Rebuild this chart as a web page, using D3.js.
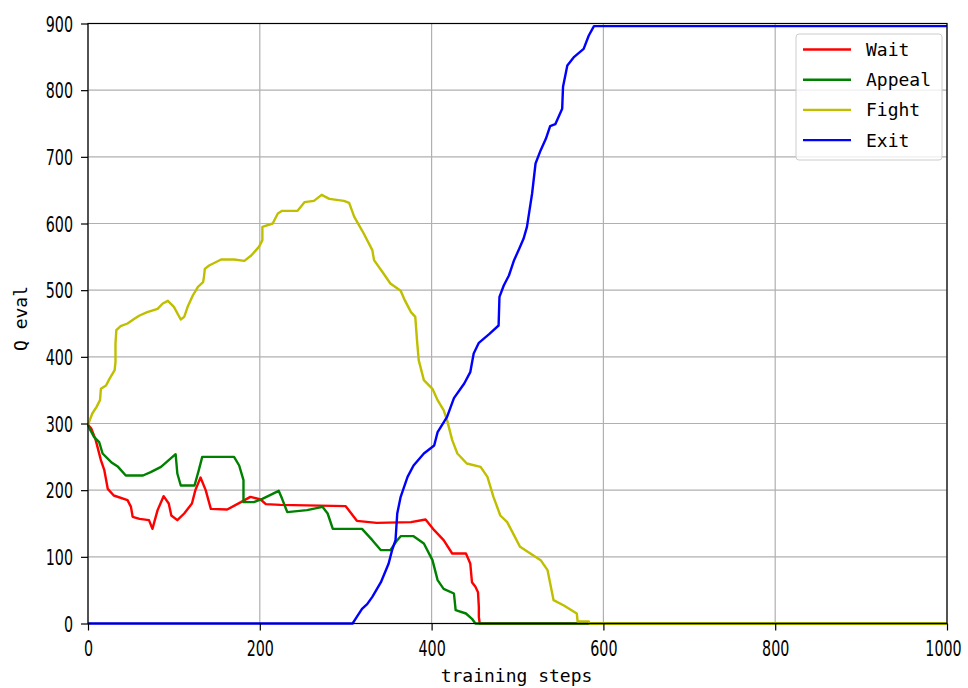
<!DOCTYPE html>
<html>
<head>
<meta charset="utf-8">
<script src="https://cdn.jsdelivr.net/npm/d3@7"></script>
<style>
  body { margin: 0; background: #fff; }
  .tick text { font-family: "DejaVu Sans", "Liberation Sans", sans-serif; font-size: 21px; fill: #000; }
  .lbl { font-family: "DejaVu Sans Mono", "Liberation Mono", monospace; font-size: 18px; fill: #000; }
</style>
</head>
<body>
<svg id="chart"></svg>
<script>
// values (training step, Q eval)
var waitSteps   = [0,4,9,15,19,23,30,46,50,52,60,71,75,81,88,94,97,104,112,121,125,131,137,143,162,178,189,201,207,224,300,313,336,376,393,403,414,424,440,445,447,451,454,455,455,456,1000]
var waitQ       = [298,292,275,245,230,202,192,185,175,160,157,155,142,170,191,180,162,155,165,180,200,219,200,172,171,182,190,186,179,178,176,154,151,152,156,140,125,105,105,90,62,55,47,25,10,0,0]

var appealSteps = [0,2,7,13,17,27,35,44,64,73,85,102,104,108,124,129,133,170,176,181,181,193,203,222,226,232,255,273,279,285,319,331,341,352,360,364,379,391,401,407,414,426,428,440,447,451,1000]
var appealQ     = [298,292,280,272,255,242,235,222,222,227,235,254,225,207,207,230,250,250,237,215,182,182,187,199,187,167,170,175,165,142,142,125,110,110,125,131,131,120,95,65,52,45,20,15,7,0,0]

var fightSteps  = [0,5,10,14,15,21,25,31,32,32,33,38,46,54,60,69,81,87,93,100,108,112,116,122,128,134,135,136,141,155,170,182,190,199,203,203,215,221,226,244,252,263,272,281,298,304,310,321,331,333,344,352,364,368,376,381,383,385,391,401,407,414,418,424,430,441,457,465,472,480,488,503,515,527,535,542,554,569,570,583,584,1000]
var fightQ      = [298,315,325,335,352,357,367,380,392,420,440,446,450,457,462,467,472,480,484,475,456,460,475,492,505,512,520,532,537,546,546,544,552,565,575,595,600,615,619,619,632,634,643,637,634,631,610,585,560,545,525,510,499,487,467,460,425,395,365,352,335,320,305,275,255,240,235,220,190,162,152,115,105,95,80,35,27,15,3,3,0,0]

var exitSteps   = [0,308,312,319,325,331,341,350,354,358,360,364,372,379,391,403,407,418,426,438,445,449,455,467,478,479,484,490,496,502,507,511,514,517,521,527,533,538,544,552,553,558,566,577,583,589,1000]
var exitQ       = [0,0,8,22,29,40,62,90,110,125,165,190,220,237,255,267,287,310,338,360,377,405,421,434,447,490,507,522,545,562,577,595,620,645,690,710,727,746,749,772,805,837,850,862,882,896,896]

var seriesNames  = ['Wait','Appeal','Fight','Exit']
var seriesColors = ['#ff0000','#008000','#bfbf00','#0000ff']
var xTicks = [0,200,400,600,800,1000]
var yTicks = [0,100,200,300,400,500,600,700,800,900]

var W = 968, H = 688
var margin = {left: 88, top: 23.5, right: 21, bottom: 64.5}
var w = W - margin.left - margin.right
var h = H - margin.top - margin.bottom
var sx = 0.68 // squeeze tick digits to the narrow face of the original

var svg = d3.select('#chart').attr('width', W).attr('height', H)
var g = svg.append('g').attr('transform', 'translate(' + margin.left + ',' + margin.top + ')')

var x = d3.scaleLinear().domain([0, 1000]).range([0, w])
var y = d3.scaleLinear().domain([0, 900]).range([h, 0])

// grid
g.append('g').selectAll('line').data(xTicks).enter().append('line')
  .attr('x1', function(d){return x(d)}).attr('x2', function(d){return x(d)})
  .attr('y1', 0).attr('y2', h)
  .attr('stroke', '#b0b0b0').attr('stroke-width', 1.2)
g.append('g').selectAll('line').data(yTicks).enter().append('line')
  .attr('y1', function(d){return y(d)}).attr('y2', function(d){return y(d)})
  .attr('x1', 0).attr('x2', w)
  .attr('stroke', '#b0b0b0').attr('stroke-width', 1.2)

// lines
var data = [
  d3.zip(waitSteps, waitQ),
  d3.zip(appealSteps, appealQ),
  d3.zip(fightSteps, fightQ),
  d3.zip(exitSteps, exitQ)
]
var line = d3.line().x(function(d){return x(d[0])}).y(function(d){return y(d[1])})

g.append('g')
  .selectAll('path').data(data).enter().append('path')
  .attr('d', line)
  .attr('fill', 'none')
  .attr('stroke', function(d, i){return seriesColors[i]})
  .attr('stroke-width', 2.4)
  .attr('stroke-linejoin', 'round')

// axes
var xAxis = g.append('g').attr('transform', 'translate(0,' + h + ')')
  .call(d3.axisBottom(x).tickValues(xTicks).tickSize(7).tickPadding(4).tickFormat(d3.format('d')))
var yAxis = g.append('g')
  .call(d3.axisLeft(y).tickValues(yTicks).tickSize(7).tickPadding(8).tickFormat(d3.format('d')))
g.selectAll('.domain').remove()
g.selectAll('.tick line').attr('stroke', '#000').attr('stroke-width', 1.2)
g.selectAll('.tick text').attr('transform', 'scale(' + sx + ',1)')
yAxis.selectAll('.tick text').attr('dy', '0.36em').attr('x', -15 / sx)
xAxis.selectAll('.tick text').attr('dy', '1.02em')
xAxis.selectAll('.tick text').filter(function(d){return d === 1000}).attr('x', -4 / sx)

// spines
g.append('rect').attr('width', w).attr('height', h)
  .attr('fill', 'none').attr('stroke', '#000').attr('stroke-width', 1.2)

// labels
svg.append('text').attr('class', 'lbl')
  .attr('x', margin.left + w / 2 - 1).attr('y', 682)
  .attr('text-anchor', 'middle')
  .text('training steps')
svg.append('text').attr('class', 'lbl')
  .attr('transform', 'translate(27,' + (margin.top + h / 2 - 5) + ') rotate(-90)')
  .attr('text-anchor', 'middle')
  .text('Q eval')

// legend
var legend = svg.append('g').attr('transform', 'translate(796,34)')
legend.append('rect')
  .attr('width', 146).attr('height', 126).attr('rx', 3)
  .attr('fill', '#fff').attr('fill-opacity', 0.8)
  .attr('stroke', '#cccccc').attr('stroke-width', 1)
var items = legend.selectAll('.item').data(seriesNames).enter().append('g')
  .attr('transform', function(d, i){return 'translate(0,' + (15.5 + i * 30.2) + ')'})
items.append('line')
  .attr('x1', 7).attr('x2', 55)
  .attr('stroke', function(d, i){return seriesColors[i]})
  .attr('stroke-width', 2.4)
items.append('text').attr('class', 'lbl')
  .attr('x', 70).attr('dy', '0.36em')
  .text(function(d){return d})
</script>
</body>
</html>
